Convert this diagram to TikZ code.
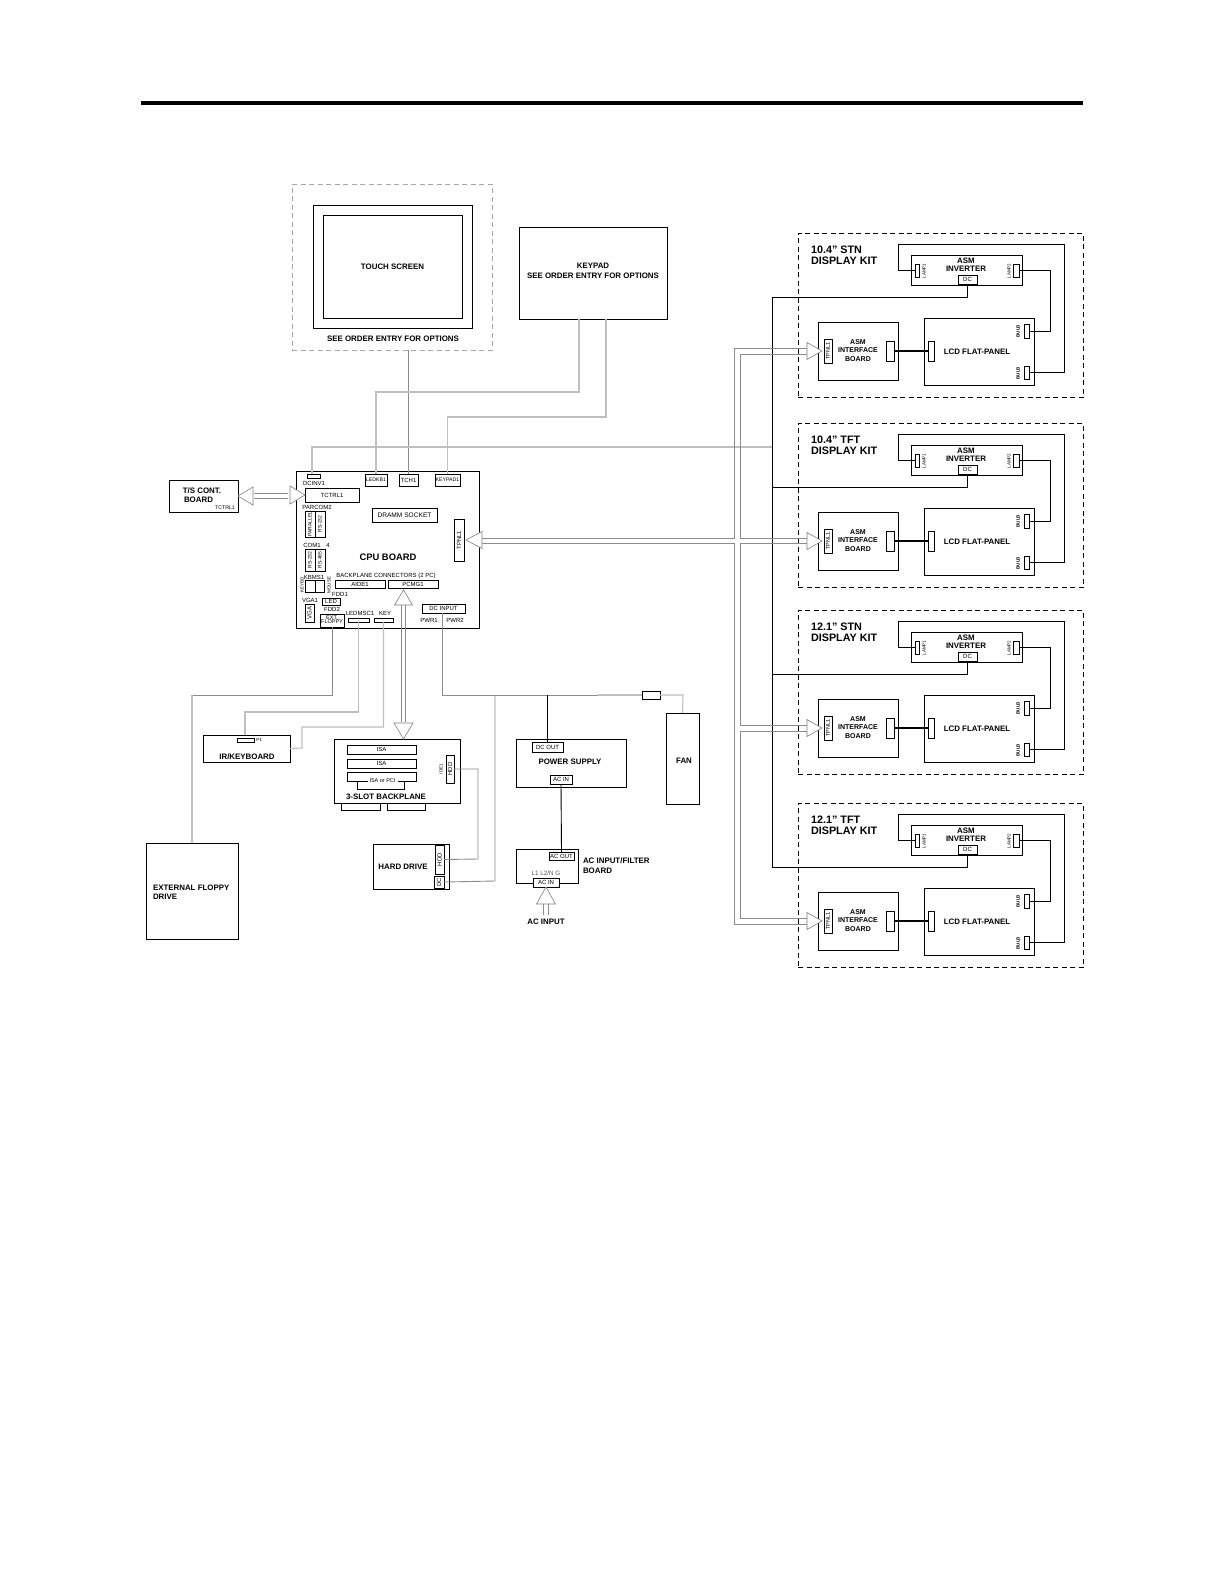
\documentclass[tikz,border=0pt]{standalone}
\usepackage{fontspec}
\setmainfont{Liberation Sans}
\newcommand{\bx}[7][]{%
  \pgfmathsetmacro\bxw{(#5)-(#3)}\pgfmathsetmacro\bxh{(#6)-(#4)}%
  \node[box,minimum width=\bxw pt,minimum height=\bxh pt,#1] (#2) at ({((#3)+(#5))/2},{((#4)+(#6))/2}) {\vbox to 0pt{\vss\hbox to 0pt{\hss#7\hss}\vss}};}
\newcommand{\lb}[5][]{\node[lab,#1] (#2) at (#3,#4) {#5};}
\newcommand{\rt}[1]{\rotatebox{90}{#1}}
\newcommand{\kit}[3]{%
  \bx[kitbox]{#1kit}{798}{#2}{1083}{#2+164.5}{}
  \lb[anchor=west,align=left,kit title]{#1title}{811}{#2+22}{#3\\DISPLAY KIT}
  \bx{#1inv}{911}{#2+22}{1022}{#2+52}{}
  \lb[lb8,align=center]{#1invt}{966}{#2+32}{ASM\\INVERTER}
  \bx{#1lampa}{915}{#2+31}{919.5}{#2+44}{}
  \bx{#1lampb}{1013}{#2+31}{1019}{#2+44}{}
  \lb[lb5]{#1lampat}{924}{#2+38}{\rt{LAMP1}}
  \lb[lb5]{#1lampbt}{1009}{#2+38}{\rt{LAMP2}}
  \bx[lb6]{#1dc}{958}{#2+42}{977}{#2+51}{DC}
  \bx{#1ifc}{818.5}{#2+89}{898}{#2+147}{}
  \lb[lb9,align=center]{#1ifct}{858}{#2+117.5}{ASM\\INTERFACE\\BOARD}
  \bx{#1tpnl}{824}{#2+106}{832}{#2+130}{\rt{\fontsize{5.5}{5.5}\selectfont TPNL1}}
  \bx{#1ca}{886}{#2+108}{894}{#2+128}{}
  \bx{#1lcd}{924}{#2+85}{1034}{#2+152}{}
  \lb[lb7]{#1lcdt}{977}{#2+119}{LCD FLAT-PANEL}
  \bx{#1cb}{928}{#2+108}{934}{#2+128}{}
  \bx{#1bulba}{1024}{#2+91}{1029}{#2+105}{}
  \bx{#1bulbb}{1024}{#2+133}{1029}{#2+146}{}
  \lb[lb5,font=\bfseries\fontsize{4.5}{4.5}\selectfont]{#1bulbat}{1018}{#2+98}{\rt{BULB}}
  \lb[lb5,font=\bfseries\fontsize{4.5}{4.5}\selectfont]{#1bulbbt}{1018}{#2+140}{\rt{BULB}}
  \draw[bw] (#1lampa.west) -- (898,#2+37.5) -- (898,#2+11) -- (1064,#2+11) -- (1064,#2+139.5) -- (#1bulbb.east);
  \draw[bw] (#1lampb.east) -- (1050,#2+37.5) -- (1050,#2+98) -- (#1bulba.east);
  \draw[bw] (#1dc.south) -- (#1dc.south |- 0,#2+64) -- (772,#2+64);
  \draw[bw,line width=2.4pt] (#1ca.east) -- (#1cb.west);
}
\begin{document}
\begin{tikzpicture}[x=1pt,y=-1pt,
  box/.style={draw=black,line width=0.9pt,inner sep=0pt,outer sep=0pt,fill=white,font=\fontsize{6}{6}\selectfont,align=center},
  lab/.style={inner sep=0pt,outer sep=0pt,font=\fontsize{6}{6.5}\selectfont},
  lb5/.style={font=\fontsize{4.5}{4.5}\selectfont},
  lb6/.style={font=\fontsize{6}{7}\selectfont},
  lb7/.style={font=\bfseries\fontsize{7.9}{9.5}\selectfont},
  lb8/.style={font=\bfseries\fontsize{7.9}{7.8}\selectfont},
  lb9/.style={font=\bfseries\fontsize{7}{8.5}\selectfont},
  kit title/.style={font=\bfseries\fontsize{10.8}{11}\selectfont},
  kitbox/.style={draw=black,line width=0.8pt,dash pattern=on 5pt off 3.5pt,fill=none},
  bw/.style={draw=black,line width=0.9pt},
  lw/.style={draw=black!25,line width=1.1pt},
  mw/.style={draw=black!45,line width=0.9pt},
  head/.style={draw=black!50,line width=0.6pt,fill=white},
  bus/.style={draw=black!45,line width=1pt}]
\useasboundingbox (0,0) rectangle (1224,1584);
\fill[black] (141,101) rectangle (1083,105);

% ---------- top units
\bx[kitbox,draw=black!35]{tsd}{292}{184}{492}{350}{}
\bx{tso}{313}{205}{472}{328}{}
\bx[lb7]{tsi}{323}{215}{462}{318}{TOUCH SCREEN}
\lb[lb7]{tso2}{393}{339}{SEE ORDER ENTRY FOR OPTIONS}
\bx{kp}{519}{227}{667}{319}{}
\lb[lb7,align=center]{kpt}{593}{271}{KEYPAD\\SEE ORDER ENTRY FOR OPTIONS}

% ---------- CPU board
\bx{cpu}{296}{471}{479}{628}{}
\bx{dcinv}{307}{474}{320}{478}{}
\lb{dcinvt}{314}{483}{DCINV1}
\bx{tctrl}{305}{488}{359}{502}{TCTRL1}
\bx[font=\fontsize{5.2}{5.2}\selectfont]{ledkb}{365}{474}{387}{486}{LEDKB1}
\bx{tch}{399}{474}{418}{486}{TCH1}
\bx[font=\fontsize{5.2}{5.2}\selectfont]{keypad}{435}{474}{460}{486}{KEYPAD1}
\lb{parcom}{317}{507}{PARCOM2}
\bx{pa}{305}{511}{315}{537}{\rt{\fontsize{5}{5}\selectfont PARALLEL}}
\bx{rsa}{315}{511}{325}{537}{\rt{\fontsize{5}{5}\selectfont RS-232}}
\bx[font=\fontsize{6.6}{7}\selectfont]{dram}{372}{508}{437}{522}{DRAMM SOCKET}
\bx{tpnl}{454}{519}{464}{561}{\rt{TPNL1}}
\lb{coma}{312}{545}{COM1}
\lb{comb}{328}{545}{4}
\bx{rsb}{305}{549}{315}{571}{\rt{\fontsize{5}{5}\selectfont RS-232}}
\bx{rsc}{315}{549}{325}{571}{\rt{\fontsize{5}{5}\selectfont RS-485}}
\lb[font=\bfseries\fontsize{9.4}{9.4}\selectfont]{cput}{388}{557}{CPU BOARD}
\lb{bpc}{386}{576}{BACKPLANE CONNECTORS (2 PC)}
\bx{aide}{335}{580}{385}{588}{AIDE1}
\bx{pcmg}{388}{580}{438}{588}{PCMG1}
\lb{kbms}{314}{577}{KBMS1}
\bx{kbl}{305}{580}{315}{592}{}
\bx{kbr}{315}{580}{324}{592}{}
\lb[lb5]{kbd}{302}{585}{\rt{KEYBD}}
\lb[lb5]{mse}{329}{585}{\rt{MOUSE}}
\lb{fdda}{340}{594}{FDD1}
\bx{led}{322}{598}{340}{605}{LED}
\lb{vgal}{310}{600}{VGA1}
\bx{vga}{305}{604}{314}{622}{\rt{VGA}}
\lb{fddb}{332}{609}{FDD2}
\bx[font=\fontsize{5.5}{6}\selectfont]{ext}{320}{614}{344}{627}{\begin{tabular}{@{}c@{}}EXT.\\[-1.5pt]FLOPPY\end{tabular}}
\lb{ledmt}{360}{613}{LEDMSC1}
\bx{ledm}{348}{618}{369}{622}{}
\lb{keyt}{385}{613}{KEY}
\bx{keyc}{374}{618}{393}{622}{}
\bx{dcin}{422}{604}{465}{613}{DC INPUT}
\lb{pwa}{429}{620}{PWR1}
\lb{pwb}{455}{620}{PWR2}

% ---------- T/S controller
\bx{tsc}{169}{480}{238}{512}{}
\lb[lb7]{tsct}{202}{491}{T/S CONT.}
\lb[lb7,anchor=west]{tscb}{184}{500}{BOARD}
\lb[font=\fontsize{5.2}{5.2}\selectfont]{tsctr}{225}{508}{TCTRL1}

% ---------- lower left
\bx{fd}{146}{843}{238}{939}{}
\lb[lb7,anchor=west,align=left]{fdt}{153}{892}{EXTERNAL FLOPPY\\DRIVE}
\bx{ir}{203}{735}{290}{762}{}
\bx{pone}{237}{738}{254}{742}{}
\lb[lb5]{ponet}{259}{740}{P1}
\lb[lb7]{irt}{247}{757}{IR/KEYBOARD}
\bx{bp}{334}{739}{460}{803}{}
\draw[bw] (341,803) -- (341,810) -- (380,810) -- (380,803) -- (387,803) -- (387,810) -- (425,810) -- (425,803);
\bx{isa}{347}{745}{416}{754}{ISA}
\bx{isb}{347}{759}{416}{768}{ISA}
\bx{isc}{347}{772}{416}{781}{}
\bx{pci}{357}{781}{404}{789}{}
\node[fill=white,inner sep=1pt,outer sep=0pt,font=\fontsize{5.5}{6}\selectfont,minimum width=30pt,minimum height=6pt] (isct) at (382.5,781) {ISA or PCI};
\lb[lb7]{bpt}{386}{797}{3-SLOT BACKPLANE}
\bx{hddc}{446}{755}{454}{783}{\rt{HDD}}
\lb[lb5]{ide}{441}{769}{\rt{IDE1}}
\bx{hd}{373}{844}{449}{889}{}
\lb[lb7]{hdt}{403}{867}{HARD DRIVE}
\bx{hdh}{435}{845}{444}{874}{\rt{HDD}}
\bx{hdd}{434}{876}{444}{888}{\rt{DC}}

% ---------- lower middle
\bx{ps}{516}{739}{626}{787}{}
\bx{dco}{532}{742}{563}{752}{DC OUT}
\lb[lb7]{pst}{570}{762}{POWER SUPPLY}
\bx{aci}{550}{775}{572}{784}{AC IN}
\bx{flt}{516}{849}{578}{883}{}
\bx{aco}{549}{852}{574}{860}{AC OUT}
\bx{acn}{533}{878}{559}{887}{AC IN}
\lb[font=\fontsize{6.3}{6.3}\selectfont,text=black!65]{lln}{546}{873}{L1 L2/N G}
\lb[lb7,anchor=west,align=left]{fltt}{583}{865.5}{AC INPUT/FILTER\\BOARD}
\lb[lb7]{acit}{546}{922}{AC INPUT}
\bx{fan}{666}{713}{699}{804}{}
\lb[lb7]{fant}{684}{761}{FAN}
\bx{fanc}{642}{691}{660}{699}{}

% ---------- display kits
\kit{a}{233}{10.4" STN}
\kit{b}{423}{10.4" TFT}
\kit{c}{610}{12.1" STN}
\kit{d}{803}{12.1" TFT}
\draw[bw] (772,297) -- (772,867);

% ---------- grey wires
\draw[mw] (tsd.south -| tch.north) -- (tch.north);
\draw[lw] (kp.south -| 579,0) -- (579,392) -- (ledkb.north |- 0,392) -- (ledkb.north);
\draw[lw] (kp.south -| 606,0) -- (606,417) -- (keypad.north |- 0,417) -- (keypad.north);
\draw[lw] (dcinv.north -| 312,0) -- (312,447) -- (772,447);
\draw[mw] (ext.south) -- (ext.south |- 0,695) -- (192,695);
\draw[lw] (192,695) -- (fd.north -| 192,0);
\draw[lw] (ledm.south) -- (ledm.south |- 0,712) -- (245,712) -- (ir.north -| 245,0);
\draw[lw] (keyc.south) -- (keyc.south |- 0,727) -- (302,727) -- (302,748) -- (ir.east);
\draw[mw] (dcin.south -| 442,0) -- (442,695) -- (598,695);
\draw[lw] (598,695) -- (fanc.west);
\draw[lw] (fanc.east) -- (683,695) -- (fan.north);
\draw[mw] (hddc.east) -- (478,769) -- (478,859) -- (hdh.east);
\draw[mw] (hdd.east) -- (495,881) -- (495,695);
\draw[bw] (dco.north) -- (dco.north |- 0,695);
\draw[bw] (aci.south) -- (aco.north);

% ---------- hollow bus arrows
\draw[bus] (254,493) -- (288,493) (254,498) -- (288,498);
\draw[bus] (401,605) -- (401,722) (405.5,605) -- (405.5,722);
\draw[bus] (543.5,904) -- (543.5,915) (548,904) -- (548,915);
% display bus
\draw[bus] (807,348) -- (734,348) -- (734,538) -- (482,538);
\draw[bus] (482,543) -- (734,543) -- (734,924) -- (807,924);
\draw[bus] (807,354) -- (740,354) -- (740,538) -- (807,538);
\draw[bus] (807,543) -- (740,543) -- (740,725) -- (807,725);
\draw[bus] (807,731) -- (740,731) -- (740,918) -- (807,918);

\draw[head] (tsc.east) -- ++(15,-9) -- ++(0,18) -- cycle;
\draw[head] (tctrl.west) -- ++(-15,-9) -- ++(0,18) -- cycle;
\draw[head] (tpnl.east) ++(2,0) -- ++(16,-8.5) -- ++(0,17) -- cycle;
\draw[head] (pcmg.south) ++(-9.5,2) -- ++(-9,15) -- ++(18,0) -- cycle;
\draw[head] (bp.north -| 403.5,0) -- ++(-9.5,-16) -- ++(19,0) -- cycle;
\draw[head] (acn.south) -- ++(-9.5,17) -- ++(19,0) -- cycle;
\draw[head] (atpnl.west) ++(-2,0) -- ++(-15,-8.5) -- ++(0,17) -- cycle;
\draw[head] (btpnl.west) ++(-2,0) -- ++(-15,-8.5) -- ++(0,17) -- cycle;
\draw[head] (ctpnl.west) ++(-2,0) -- ++(-15,-8.5) -- ++(0,17) -- cycle;
\draw[head] (dtpnl.west) ++(-2,0) -- ++(-15,-8.5) -- ++(0,17) -- cycle;
\end{tikzpicture}
\end{document}
